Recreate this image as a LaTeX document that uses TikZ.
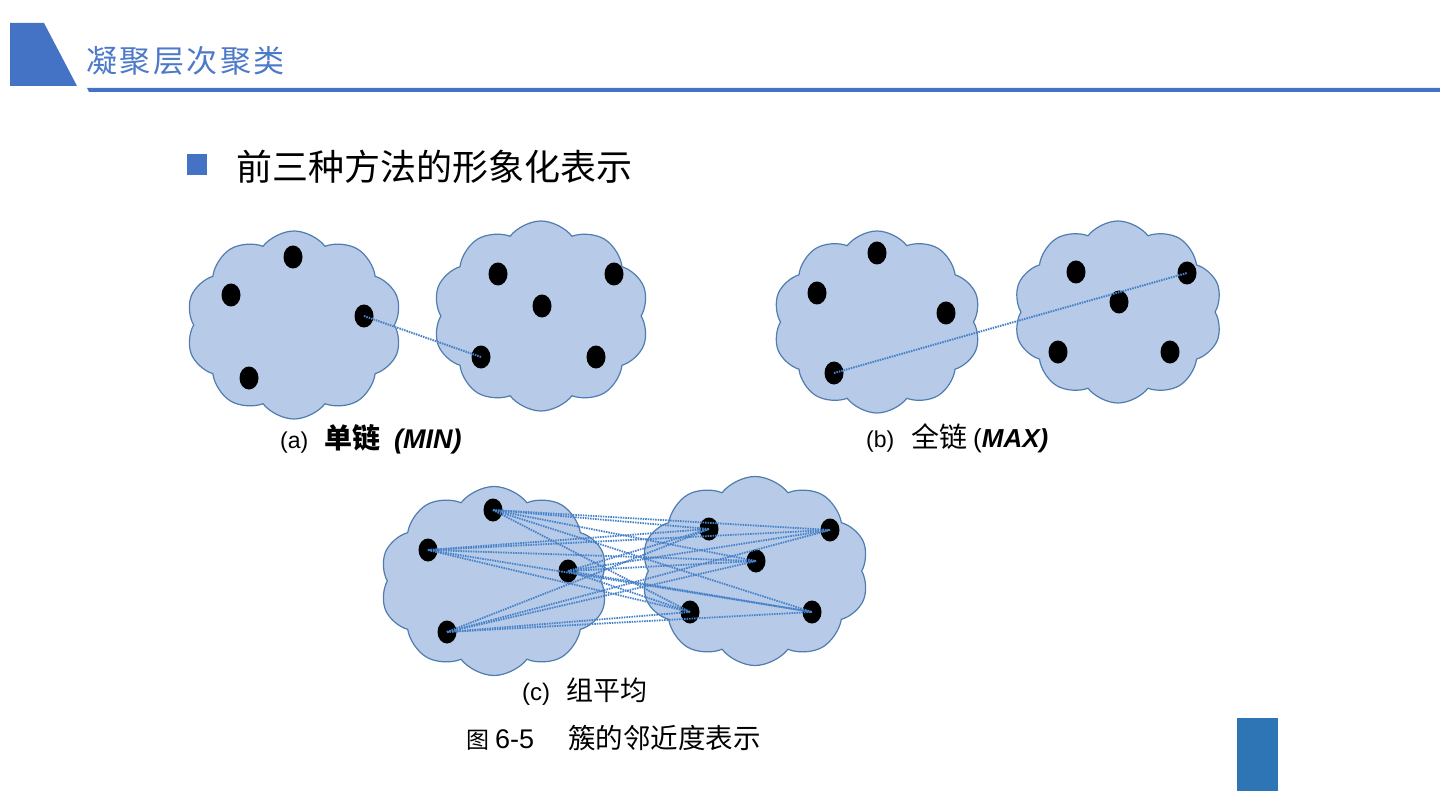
\documentclass[tikz,border=0pt]{standalone}
\usepackage{fontspec}
\setmainfont{Liberation Sans}
\newfontfamily\cjk{Noto Sans CJK SC}
\newfontfamily\cjktitle[LetterSpace=8]{Noto Sans CJK SC}
\usetikzlibrary{shapes.symbols,shapes.geometric}
\definecolor{hdrblue}{RGB}{68,114,196}
\definecolor{titleblue}{RGB}{76,122,200}
\definecolor{cloudfill}{RGB}{183,202,232}
\definecolor{cloudline}{RGB}{80,125,175}
\definecolor{linkblue}{RGB}{70,130,200}
\definecolor{boxblue}{RGB}{46,117,182}
\tikzset{
  clus/.style={cloud, cloud puffs=10, cloud puff arc=105, cloud ignores aspect,
    fill=cloudfill, draw=cloudline, line width=1.2pt, inner sep=0pt},
  dot/.style={ellipse, fill=black, minimum width=19pt, minimum height=23pt, inner sep=0pt},
  link/.style={linkblue, line width=2pt, dash pattern=on 1.5pt off 1pt},
  lab/.style={inner sep=0pt, anchor=base west}
}
\begin{document}
\begin{tikzpicture}[x=1pt,y=-1pt]
\useasboundingbox (0,0) rectangle (1440,810);
% header
\fill[hdrblue] (10,23) -- (44,23) -- (77,86) -- (10,86) -- cycle;
\fill[hdrblue] (87,88) -- (1440,88) -- (1440,92) -- (89,92) -- cycle;
\node[lab, text=titleblue, font=\cjktitle\fontsize{31}{36}\selectfont] (title) at (86,73) {凝聚层次聚类};
% bullet
\fill[hdrblue] (187,154) rectangle (207,175);
\node[lab, font=\cjk\fontsize{36}{40}\selectfont] (sub) at (236,181) {前三种方法的形象化表示};
% (a)
\node[clus, minimum width=216pt, minimum height=188pt] (ca1) at (294,325) {};
\node[clus, minimum width=216pt, minimum height=190pt] (ca2) at (541,316) {};
\node[dot] (a1) at (293,257) {};
\node[dot] (a2) at (231,295) {};
\node[dot] (a3) at (364,316) {};
\node[dot] (a4) at (249,378) {};
\node[dot] (a5) at (498,274) {};
\node[dot] (a6) at (614,274) {};
\node[dot] (a7) at (542,306) {};
\node[dot] (a8) at (481,357) {};
\node[dot] (a9) at (596,357) {};
\draw[link] (a3.center) -- (a8.center);
\node[lab, font=\fontsize{23}{26}\selectfont] (la1) at (280,448) {(a)};
\node[lab, font=\cjk\bfseries\fontsize{28}{32}\selectfont] (la2) at (324,448) {单链};
\node[lab, font=\bfseries\itshape\fontsize{27}{32}\selectfont] (la3) at (394,448) {(MIN)};
% (b)
\node[clus, minimum width=208pt, minimum height=182pt] (cb1) at (877,322) {};
\node[clus, minimum width=209pt, minimum height=182pt] (cb2) at (1118,312) {};
\node[dot] (b1) at (877,253) {};
\node[dot] (b2) at (817,293) {};
\node[dot] (b3) at (946,313) {};
\node[dot] (b4) at (834,373) {};
\node[dot] (b5) at (1076,272) {};
\node[dot] (b6) at (1187,273) {};
\node[dot] (b7) at (1119,302) {};
\node[dot] (b8) at (1058,352) {};
\node[dot] (b9) at (1170,352) {};
\draw[link] (b4.center) -- (b6.center);
\node[lab, font=\fontsize{23}{26}\selectfont] (lb1) at (866,447) {(b)};
\node[lab, font=\cjk\fontsize{28}{32}\selectfont] (lb2) at (911,447) {全链};
\node[lab, font=\fontsize{26}{30}\selectfont] (lb3) at (973,447) {(\textbf{\textit{MAX)}}};
% (c)
\node[clus, minimum width=228pt, minimum height=189pt] (cc1) at (494,581) {};
\node[clus, minimum width=228pt, minimum height=189pt] (cc2) at (755,571) {};
\node[dot] (c1) at (493,510) {};
\node[dot] (c2) at (428,550) {};
\node[dot] (c3) at (568,571) {};
\node[dot] (c4) at (447,632) {};
\node[dot] (d1) at (709,529) {};
\node[dot] (d2) at (830,530) {};
\node[dot] (d3) at (756,561) {};
\node[dot] (d4) at (690,612) {};
\node[dot] (d5) at (812,612) {};
\foreach \l in {c1,c2,c3,c4}{
  \foreach \r in {d1,d2,d3,d4,d5}{
    \draw[link, line width=1.8pt] (\l.center) -- (\r.center);
  }
}
\node[lab, font=\fontsize{24}{26}\selectfont] (lc1) at (522,700) {(c)};
\node[lab, font=\cjk\fontsize{27}{30}\selectfont] (lc2) at (566,700) {组平均};
\node[lab, font=\cjk\fontsize{23}{30}\selectfont] (cap1) at (466,748) {图};
\node[lab, font=\fontsize{27}{30}\selectfont] (cap2) at (495,748) {6-5};
\node[lab, font=\cjk\fontsize{27.5}{30}\selectfont] (cap3) at (568,748) {簇的邻近度表示};
% corner box
\fill[boxblue] (1237,718) rectangle (1278,791);
\end{tikzpicture}
\end{document}
